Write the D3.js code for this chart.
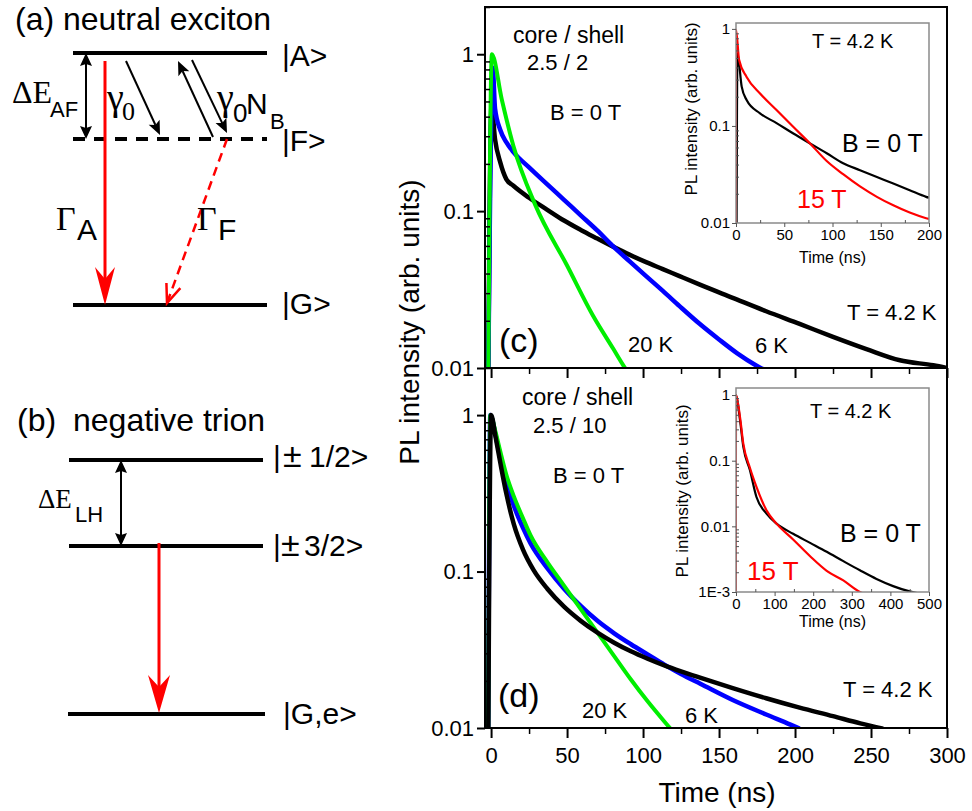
<!DOCTYPE html>
<html><head><meta charset="utf-8">
<script src="https://cdn.jsdelivr.net/npm/d3@7"></script>
<style>body{margin:0;background:#fff}</style>
</head><body>
<svg id="fig" width="972" height="811"></svg>
<script>
// ---------------- DATA ----------------
// main panel (c): core/shell 2.5/2, B = 0 T   [time ns, PL intensity]
const c_4K  = [[-2,0.006],[0.3,0.47],[2.6,0.287],[6,0.205],[10,0.16],[14.7,0.145],[25,0.1216],[37,0.102],[48,0.0871],[59,0.0759],[70,0.0668],[80,0.0596],[91,0.0528],[102,0.0473],[113,0.0427],[124,0.0385],[137,0.0341],[159,0.028],[181,0.023],[203,0.0191],[225,0.0158],[247,0.0132],[269,0.0112],[291,0.0104],[300,0.0100]];
const c_6K  = [[-2,0.006],[1.1,0.82],[2.6,0.45],[6,0.33],[10,0.275],[15,0.236],[25,0.19],[37,0.148],[48,0.118],[59,0.094],[70,0.075],[80,0.060],[91,0.048],[102,0.0385],[113,0.031],[124,0.0248],[137,0.0192],[150,0.0152],[162,0.0124],[175,0.0103],[185,0.0092]];
const c_20K = [[-2,0.005],[0.5,1.0],[7,0.517],[14.7,0.26],[29,0.11],[50,0.045],[67,0.0216],[80.5,0.0132],[87,0.0104],[92,0.0088]];
// main panel (d): core/shell 2.5/10, B = 0 T
const d_4K  = [[-2,0.005],[0,1.0],[3,0.72],[6,0.50],[10,0.316],[15,0.20],[21,0.138],[28,0.102],[37,0.0776],[48,0.0596],[59,0.0484],[70,0.0407],[81,0.0351],[92,0.0309],[103,0.0277],[114,0.0251],[125,0.023],[138,0.0209],[159,0.018],[181,0.0155],[203,0.0135],[225,0.0119],[243,0.0107],[258,0.0099]];
const d_6K  = [[-2,0.005],[-0.5,1.0],[3,0.74],[6,0.537],[10,0.372],[15,0.263],[21,0.19],[26,0.151],[37,0.105],[48,0.0776],[59,0.0603],[70,0.0484],[81,0.0403],[92,0.0343],[103,0.0295],[114,0.0254],[125,0.0221],[138,0.0191],[159,0.0151],[181,0.0122],[197,0.0105],[203,0.0099]];
const d_20K = [[-2,0.005],[-0.5,1.0],[3,0.776],[6,0.589],[10,0.417],[15,0.302],[21,0.219],[26,0.17],[37,0.115],[48,0.0813],[59,0.0575],[70,0.0407],[81,0.0288],[92,0.0204],[103,0.0148],[114,0.011],[124,0.0085]];
// inset of (c): T = 4.2 K
const ic_0T  = [[0.5,0.005],[1.5,0.56],[5.9,0.254],[11,0.185],[24.9,0.135],[42,0.107],[59,0.084],[76.7,0.066],[94,0.0524],[111,0.0413],[128.5,0.035],[146,0.0298],[163,0.0255],[180,0.0218],[197,0.0186],[200,0.0182]];
const ic_15T = [[-0.3,0.005],[0,0.98],[3.2,0.48],[11,0.32],[24.9,0.216],[42,0.146],[59,0.0985],[76.7,0.066],[94,0.0435],[111,0.0318],[128.5,0.0238],[146,0.0186],[163,0.0152],[180,0.0128],[197,0.0112],[200,0.011]];
// inset of (d): T = 4.2 K
const id_0T  = [[-0.5,0.0005],[0,1.0],[10.4,0.415],[19,0.162],[36,0.072],[53,0.028],[79,0.0156],[105,0.011],[148,0.0077],[192,0.0056],[235,0.0041],[278,0.00295],[321,0.00214],[364,0.00158],[407,0.00123],[450,0.00102],[470,0.00096]];
const id_15T = [[-0.5,0.0005],[0,1.0],[10.4,0.46],[19,0.18],[36,0.078],[53,0.04],[79,0.0175],[105,0.011],[148,0.0063],[192,0.0035],[235,0.0021],[278,0.0015],[321,0.001],[340,0.0009]];

const mainXTicks = [0,50,100,150,200,250,300];
const mainYTicks = [0.01,0.1,1];
const mainYLabels = ["0.01","0.1","1"];
const insetCXTicks = [0,50,100,150,200];
const insetCYTicks = [0.01,0.1,1];
const insetDXTicks = [0,100,200,300,400,500];
const insetDYTicks = [0.001,0.01,0.1,1];
const insetDYLabels = ["1E-3","0.01","0.1","1"];

// ---------------- DRAWING ----------------
const SANS = "Arial, 'Liberation Sans', sans-serif";
const SERIF = "'Times New Roman', 'Liberation Serif', serif";
const svg = d3.select("#fig");
svg.append("rect").attr("width",972).attr("height",811).attr("fill","#fff");

function txt(g, x, y, s, size, opts={}) {
  const t = g.append("text").attr("x",x).attr("y",y).text(s)
    .attr("font-size",size).attr("font-family",opts.family||SANS)
    .attr("fill",opts.fill||"#000");
  if (opts.anchor) t.attr("text-anchor",opts.anchor);
  return t;
}
function head(g,x1,y1,x2,y2,len,hw,notch,color){
  const L=Math.hypot(x2-x1,y2-y1), ux=(x2-x1)/L, uy=(y2-y1)/L, px=-uy, py=ux;
  const bx=x2-len*ux, by=y2-len*uy, nx=x2-(len-notch)*ux, ny=y2-(len-notch)*uy;
  g.append("path").attr("d",`M${x2},${y2}L${bx+hw*px},${by+hw*py}L${nx},${ny}L${bx-hw*px},${by-hw*py}Z`).attr("fill",color);
  return [nx,ny];
}
function arrow(g,x1,y1,x2,y2,opt){
  const c=opt.color||"#000";
  let s=[x1,y1];
  if (opt.both) s=head(g,x2,y2,x1,y1,opt.len,opt.hw,opt.notch,c);
  const e=head(g,x1,y1,x2,y2,opt.len,opt.hw,opt.notch,c);
  g.append("line").attr("x1",s[0]).attr("y1",s[1]).attr("x2",e[0]).attr("y2",e[1])
   .attr("stroke",c).attr("stroke-width",opt.sw||2);
}

// ---- level diagram (a)
const gd = svg.append("g");
txt(gd,15,30,"(a) neutral exciton",32);
function level(y,x1,x2,dash){
  const l=gd.append("line").attr("x1",x1).attr("x2",x2).attr("y1",y).attr("y2",y)
    .attr("stroke","#000").attr("stroke-width",4);
  if(dash) l.attr("stroke-dasharray",dash);
}
level(53,73,267); level(139,73,267,"12,9"); level(305,73,267);
txt(gd,282,66,"|A>",30); txt(gd,282,151,"|F>",30); txt(gd,282,314,"|G>",30);
arrow(gd,86,53,86,139,{both:true,len:13,hw:6,notch:2,sw:2});
txt(gd,12,103,"ΔE",32,{family:SERIF}); txt(gd,50,117,"AF",22);
arrow(gd,105,61,105,305,{len:38,hw:10,notch:12,color:"#ff0000",sw:3});
txt(gd,107,110,"γ",38,{family:SERIF}); txt(gd,122,120,"0",26,{family:SERIF});
arrow(gd,126,61,160,135,{len:14,hw:6,notch:3,sw:2});
arrow(gd,213,137,178,61,{len:14,hw:6,notch:3,sw:2});
arrow(gd,192,60,227,133,{len:14,hw:6,notch:3,sw:2});
txt(gd,217,110,"γ",38,{family:SERIF}); txt(gd,233,122,"0",26); txt(gd,246,114,"N",30); txt(gd,270,129,"B",22);
(function(){
  const x1=227,y1=139,x2=167,y2=303;
  gd.append("line").attr("x1",x1).attr("y1",y1).attr("x2",x2).attr("y2",y2)
    .attr("stroke","#ff0000").attr("stroke-width",2.5).attr("stroke-dasharray","9,6");
  const a=Math.atan2(y1-y2,x1-x2), L=20, sp=0.38;
  gd.append("path").attr("d",`M${x2+L*Math.cos(a+sp)},${y2+L*Math.sin(a+sp)}L${x2},${y2}L${x2+L*Math.cos(a-sp)},${y2+L*Math.sin(a-sp)}`)
    .attr("fill","none").attr("stroke","#ff0000").attr("stroke-width",2.5);
})();
txt(gd,56,230,"Γ",34,{family:SERIF}); txt(gd,77,240,"A",30);
txt(gd,197,230,"Γ",34,{family:SERIF}); txt(gd,218,240,"F",30);

// ---- level diagram (b)
txt(gd,17,431,"(b)",32); txt(gd,73,431,"negative trion",32);
level(460,69,263); level(546,69,263); level(714,68,265);
txt(gd,273,467,"|",30); txt(gd,283,467,"±",34); txt(gd,309,467,"1/2>",30);
txt(gd,273,556,"|",30); txt(gd,281,556,"±",34); txt(gd,304,556,"3/2>",30);
txt(gd,283,724,"|G,e>",30);
arrow(gd,121,460,121,546,{both:true,len:13,hw:6,notch:2,sw:2});
txt(gd,38,508,"ΔE",27,{family:SERIF}); txt(gd,75,522,"LH",22);
arrow(gd,159,543,159,713,{len:38,hw:11,notch:12,color:"#ff0000",sw:3});

// ---- main panels
const x = d3.scaleLinear().domain([-4,300]).range([485,947]);
const yC = d3.scaleLog().domain([0.01,2]).range([368,7]);
const yD = d3.scaleLog().domain([0.01,2]).range([728,368]);
const minorsFor = (lo,hi)=>{const r=[];for(let e=lo;e<hi;e++)for(let k=2;k<=9;k++)r.push(k*Math.pow(10,e));return r;};

const defs = svg.append("defs");
function clip(id,x0,y0,w,h){defs.append("clipPath").attr("id",id).append("rect").attr("x",x0).attr("y",y0).attr("width",w).attr("height",h);}
clip("cc",485,7,462,361); clip("cd",485,368,462,360);
clip("ic",736,23,193,200); clip("id",736,388,193,204);

function curves(g,xs,ys,series,clipId,sw){
  const ln=d3.line().x(d=>xs(d[0])).y(d=>ys(d[1])).curve(d3.curveMonotoneX);
  const cg=g.append("g").attr("clip-path",`url(#${clipId})`);
  series.forEach(s=>cg.append("path").attr("d",ln(s.data)).attr("fill","none")
    .attr("stroke",s.color).attr("stroke-width",s.sw||sw).attr("stroke-linejoin","round"));
}
const gm = svg.append("g");
curves(gm,x,yC,[{data:c_4K,color:"#000",sw:4.5},{data:c_6K,color:"#0000ff",sw:4.5},{data:c_20K,color:"#00ee00"}],"cc",4);
curves(gm,x,yD,[{data:d_6K,color:"#0000ff",sw:4.5},{data:d_20K,color:"#00ee00"},{data:d_4K,color:"#000",sw:4.5}],"cd",4);

function mainAxes(ys,yBottom,labels){
  const gy=gm.append("g").attr("transform","translate(485,0)");
  gy.call(d3.axisLeft(ys).tickValues(mainYTicks).tickSize(8).tickPadding(3).tickFormat((d,i)=>mainYLabels[i]));
  gy.select(".domain").remove();
  gy.selectAll("line").attr("stroke-width",2);
  gy.selectAll("text").attr("font-size",22).attr("font-family",SANS);
  const gy2=gm.append("g").attr("transform","translate(485,0)");
  gy2.call(d3.axisLeft(ys).tickValues(minorsFor(-2,0).concat([2])).tickSize(-5).tickFormat(""));
  gy2.select(".domain").remove(); gy2.selectAll("line").attr("stroke-width",1.5);
  const gx=gm.append("g").attr("transform",`translate(0,${yBottom})`);
  gx.call(d3.axisBottom(x).tickValues(mainXTicks).tickSize(10).tickPadding(9).tickFormat(labels?d3.format("d"):""));
  gx.select(".domain").remove(); gx.selectAll("line").attr("stroke-width",2);
  gx.selectAll("text").attr("font-size",22).attr("font-family",SANS);
  const gx2=gm.append("g").attr("transform",`translate(0,${yBottom})`);
  gx2.call(d3.axisBottom(x).tickValues([25,75,125,175,225,275]).tickSize(6).tickFormat(""));
  gx2.select(".domain").remove(); gx2.selectAll("line").attr("stroke-width",1.5);
}
mainAxes(yC,368,false);
mainAxes(yD,728,true);
gm.append("rect").attr("x",485).attr("y",7).attr("width",462).attr("height",721).attr("fill","none").attr("stroke","#000").attr("stroke-width",2);
gm.append("line").attr("x1",485).attr("x2",947).attr("y1",368).attr("y2",368).attr("stroke","#000").attr("stroke-width",2);

gm.append("text").attr("transform","translate(419,322) rotate(-90)").attr("text-anchor","middle")
  .attr("font-size",28).attr("font-family",SANS).text("PL intensity (arb. units)");
txt(gm,717,802,"Time (ns)",28,{anchor:"middle"});

// annotations (c)
txt(gm,513,43,"core / shell",23); txt(gm,527,70,"2.5 / 2",22); txt(gm,550,120,"B = 0 T",22);
txt(gm,499,352,"(c)",34); txt(gm,628,352,"20 K",22); txt(gm,755,353,"6 K",22); txt(gm,847,320,"T = 4.2 K",22);
// annotations (d)
txt(gm,522,405,"core / shell",23); txt(gm,533,433,"2.5 / 10",22); txt(gm,553,483,"B = 0 T",22);
txt(gm,498,707,"(d)",34); txt(gm,582,718,"20 K",22); txt(gm,685,723,"6 K",22); txt(gm,843,697,"T = 4.2 K",22);

// ---- insets
function inset(x0,x1,y0,y1,xdom,ydom,xt,xminor,yt,ylab,clipId,series,cfg){
  const xs=d3.scaleLinear().domain(xdom).range([x0,x1]);
  const ys=d3.scaleLog().domain(ydom).range([y1,y0]);
  const g=svg.append("g");
  g.append("rect").attr("x",x0).attr("y",y0).attr("width",x1-x0).attr("height",y1-y0).attr("fill","#fff");
  curves(g,xs,ys,series,clipId,2.2);
  g.append("rect").attr("x",x0).attr("y",y0).attr("width",x1-x0).attr("height",y1-y0).attr("fill","none").attr("stroke","#8a8a8a").attr("stroke-width",1.5);
  const gy=g.append("g").attr("transform",`translate(${x0},0)`);
  gy.call(d3.axisLeft(ys).tickValues(yt).tickSize(4).tickPadding(2).tickFormat((d,i)=>ylab[i]));
  gy.select(".domain").remove(); gy.selectAll("line").attr("stroke","#555");
  gy.selectAll("text").attr("font-size",15).attr("font-family",SANS);
  const e0=Math.round(Math.log10(ydom[0]));
  const gy2=g.append("g").attr("transform",`translate(${x0},0)`);
  gy2.call(d3.axisLeft(ys).tickValues(minorsFor(e0,0)).tickSize(-3).tickFormat(""));
  gy2.select(".domain").remove(); gy2.selectAll("line").attr("stroke","#555");
  const gx=g.append("g").attr("transform",`translate(0,${y1})`);
  gx.call(d3.axisBottom(xs).tickValues(xt).tickSize(4).tickPadding(2).tickFormat(d3.format("d")));
  gx.select(".domain").remove(); gx.selectAll("line").attr("stroke","#555");
  gx.selectAll("text").attr("font-size",15).attr("font-family",SANS);
  const gx2=g.append("g").attr("transform",`translate(0,${y1})`);
  gx2.call(d3.axisBottom(xs).tickValues(xminor).tickSize(-3).tickFormat(""));
  gx2.select(".domain").remove(); gx2.selectAll("line").attr("stroke","#555");
  g.append("text").attr("transform",`translate(${cfg.ylx},${cfg.yly}) rotate(-90)`).attr("text-anchor","middle")
    .attr("font-size",17).attr("font-family",SANS).text("PL intensity (arb. units)");
  txt(g,(x0+x1)/2,cfg.xly,"Time (ns)",16,{anchor:"middle"});
  return g;
}
const gi1=inset(736,929,23,223,[0,200],[0.01,1.15],insetCXTicks,[25,75,125,175],insetCYTicks,["0.01","0.1","1"],"ic",
  [{data:ic_0T,color:"#000"},{data:ic_15T,color:"#ff0000"}],{ylx:697,yly:109,xly:263});
txt(gi1,812,48,"T = 4.2 K",20); txt(gi1,842,152,"B = 0 T",25); txt(gi1,797,208,"15 T",25,{fill:"#ff0000"});
const gi2=inset(736,929,388,592,[0,500],[0.001,1.28],insetDXTicks,[50,150,250,350,450],insetDYTicks,insetDYLabels,"id",
  [{data:id_0T,color:"#000"},{data:id_15T,color:"#ff0000"}],{ylx:688,yly:491,xly:627});
txt(gi2,810,418,"T = 4.2 K",20); txt(gi2,840,542,"B = 0 T",25); txt(gi2,747,580,"15 T",26,{fill:"#ff0000"});
</script>
</body></html>
